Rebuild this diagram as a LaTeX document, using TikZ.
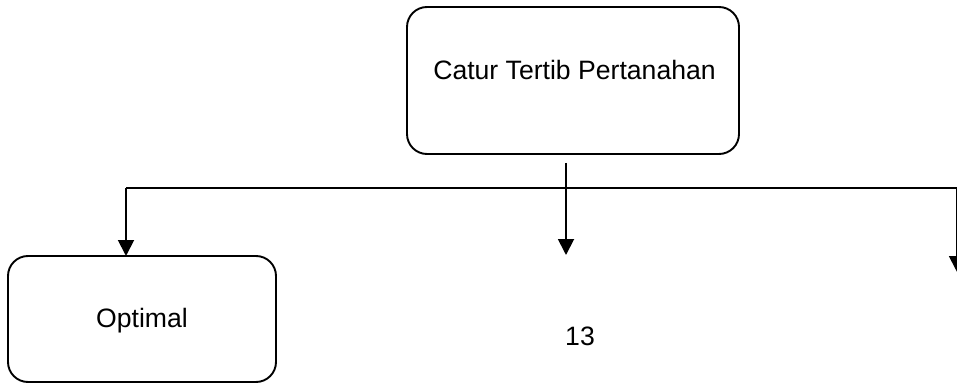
\documentclass[tikz,border=0pt]{standalone}
\usepackage{fontspec}
\setmainfont{Liberation Sans}
\usetikzlibrary{arrows.meta}
\begin{document}
\begin{tikzpicture}[x=1pt,y=-1pt,
  box/.style={draw=black,line width=1.9pt,rounded corners=20pt},
  conn/.style={draw=black,line width=1.9pt},
  arr/.style={conn,-{Triangle[width=16pt,length=16pt]}},
  lbl/.style={font=\fontsize{26.6}{30}\selectfont,anchor=base,inner sep=0pt}]
\useasboundingbox (0,0) rectangle (957,387);
% boxes
\draw[box] (407,7) rectangle (739,154);
\draw[box] (8,256) rectangle (276,382);
\node[lbl] (top) at (574.5,80) {Catur Tertib Pertanahan};
\node[lbl] (opt) at (142,327) {Optimal};
\node[lbl,anchor=base west] (num) at (565,345) {13};
% connector points
\coordinate (c0) at (566,163);
\coordinate (c1) at (566,255);
\coordinate (hl) at (126,188);
\coordinate (hr) at (960,188);
\coordinate (l1) at (126,256);
\coordinate (r0) at (957,188);
\coordinate (r1) at (957,272);
\draw[conn] (hl) -- (hr);
\draw[arr] (c0) -- (c1);
\draw[arr] (hl) -- (l1);
\draw[arr] (r0) -- (r1);
\end{tikzpicture}
\end{document}
